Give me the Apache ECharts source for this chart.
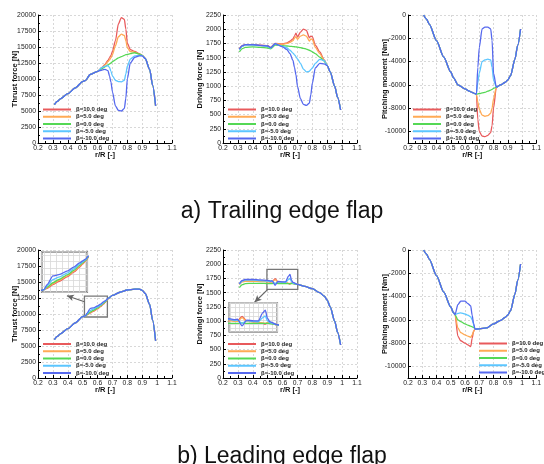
<!DOCTYPE html>
<html>
<head>
<meta charset="utf-8">
<script src="https://cdn.jsdelivr.net/npm/echarts@6/dist/echarts.min.js"></script>
<style>
  html, body { margin: 0; padding: 0; background: #fff; }
  #chart { width: 544px; height: 464px; }
</style>
</head>
<body>
<div id="chart"></div>
<script>
// flap angle cases
const betaNames = ['β=10.0 deg', 'β=5.0 deg', 'β=0.0 deg', 'β=-5.0 deg', 'β=-10.0 deg'];
const colors = ['#e85a5c', '#ffaa55', '#55d855', '#5cc6ff', '#5568ee'];
const pitchTicks = [-10000, -8000, -6000, -4000, -2000, 0];

// ---- a) trailing edge flap ----
const rTE = [0.31, 0.33, 0.35, 0.4, 0.45, 0.5, 0.52, 0.55, 0.6, 0.63, 0.65, 0.67, 0.68, 0.69, 0.7,
  0.72, 0.74, 0.76, 0.78, 0.79, 0.8, 0.82, 0.85, 0.88, 0.9, 0.92, 0.95, 0.97, 0.99];

const thrustTE = [
  [6000, 6500, 6900, 7700, 8600, 9600, 9800, 10700, 11200, 11800, 12300, 12900, 13300, 13700, 14300, 16000, 18600, 19600, 19300, 17800, 15600, 14600, 14300, 13950, 13700, 13200, 11500, 9000, 5800],
  [6000, 6500, 6900, 7700, 8600, 9600, 9800, 10700, 11200, 11700, 12200, 12700, 13000, 13300, 13800, 15200, 16600, 17000, 16800, 16000, 14900, 14300, 14200, 13900, 13700, 13200, 11500, 9000, 5800],
  [6000, 6500, 6900, 7700, 8600, 9600, 9800, 10700, 11200, 11600, 11900, 12200, 12350, 12500, 12700, 13000, 13300, 13500, 13700, 13800, 13850, 13950, 14100, 13900, 13700, 13200, 11500, 9000, 5800],
  [6000, 6500, 6900, 7700, 8600, 9600, 9800, 10700, 11200, 11800, 12000, 12100, 11800, 11200, 10500, 9800, 9600, 9550, 9800, 10800, 12000, 13100, 13600, 13700, 13650, 13200, 11500, 9000, 5800],
  [6000, 6500, 6900, 7700, 8600, 9600, 9800, 10700, 11200, 11400, 11500, 11300, 10500, 9500, 8000, 5800, 5100, 5000, 5400, 7000, 10000, 12500, 13400, 13600, 13600, 13200, 11500, 9000, 5800]
];

const driveTE = [
  [1660, 1710, 1730, 1730, 1720, 1710, 1680, 1750, 1740, 1760, 1790, 1830, 1880, 1930, 1860, 1950, 2000, 1980, 1850, 1880, 1870, 1720, 1600, 1460, 1360, 1250, 1000, 800, 580],
  [1650, 1700, 1720, 1720, 1710, 1700, 1675, 1745, 1735, 1750, 1770, 1800, 1840, 1870, 1820, 1880, 1900, 1880, 1790, 1830, 1820, 1680, 1570, 1450, 1360, 1250, 1000, 800, 580],
  [1600, 1660, 1680, 1690, 1680, 1670, 1655, 1720, 1710, 1705, 1700, 1695, 1692, 1690, 1685, 1675, 1665, 1650, 1630, 1620, 1600, 1570, 1510, 1440, 1360, 1250, 1000, 800, 580],
  [1640, 1700, 1720, 1720, 1710, 1700, 1670, 1740, 1700, 1670, 1630, 1580, 1550, 1520, 1480, 1400, 1300, 1250, 1260, 1290, 1320, 1400, 1470, 1450, 1360, 1250, 1000, 800, 580],
  [1650, 1710, 1730, 1730, 1715, 1705, 1675, 1745, 1690, 1640, 1570, 1450, 1330, 1200, 1000, 780, 680, 660, 700, 850, 1050, 1320, 1400, 1390, 1360, 1250, 1000, 800, 580]
];

const pitchTE = [
  [0, -350, -800, -2200, -3600, -4900, -5400, -6000, -6350, -6550, -6650, -6750, -6800, -9000, -10000, -10400, -10450, -10350, -10100, -9500, -8000, -6200, -6000, -5800, -5600, -5200, -3800, -2600, -1200],
  [0, -350, -800, -2200, -3600, -4900, -5400, -6000, -6350, -6550, -6650, -6750, -6800, -7500, -8100, -8600, -8700, -8650, -8450, -8000, -7200, -6200, -6000, -5800, -5600, -5200, -3800, -2600, -1200],
  [0, -350, -800, -2200, -3600, -4900, -5400, -6000, -6350, -6550, -6650, -6750, -6800, -6780, -6750, -6700, -6650, -6550, -6450, -6400, -6300, -6200, -6000, -5800, -5600, -5200, -3800, -2600, -1200],
  [0, -350, -800, -2200, -3600, -4900, -5400, -6000, -6350, -6550, -6650, -6750, -6800, -5800, -5000, -4000, -3850, -3800, -3850, -4500, -5600, -6200, -6000, -5800, -5600, -5200, -3800, -2600, -1200],
  [0, -350, -800, -2200, -3600, -4900, -5400, -6000, -6350, -6550, -6650, -6750, -6800, -4500, -2800, -1200, -1050, -1050, -1200, -2200, -5000, -6200, -6000, -5800, -5600, -5200, -3800, -2600, -1200]
];

// ---- b) leading edge flap ----
const rLE = [0.31, 0.33, 0.35, 0.4, 0.45, 0.5, 0.52, 0.53, 0.55, 0.57, 0.6, 0.62, 0.64, 0.65, 0.66, 0.67,
  0.7, 0.75, 0.8, 0.85, 0.88, 0.9, 0.92, 0.95, 0.97, 0.99];

const thrustLE = [
  [6000, 6500, 6900, 7700, 8600, 9600, 9750, 9850, 10150, 10400, 10800, 11150, 11550, 11800, 12050, 12350, 12900, 13400, 13750, 13900, 13900, 13700, 13200, 11500, 9000, 5800],
  [6000, 6500, 6900, 7700, 8600, 9600, 9750, 9900, 10220, 10480, 10880, 11220, 11620, 11850, 12080, 12380, 12900, 13400, 13750, 13900, 13900, 13700, 13200, 11500, 9000, 5800],
  [6000, 6500, 6900, 7700, 8600, 9600, 9750, 9950, 10300, 10560, 10960, 11300, 11700, 11900, 12100, 12400, 12900, 13400, 13750, 13900, 13900, 13700, 13200, 11500, 9000, 5800],
  [6000, 6500, 6900, 7700, 8600, 9600, 9750, 10050, 10550, 10750, 11100, 11420, 11800, 11980, 12150, 12420, 12900, 13400, 13750, 13900, 13900, 13700, 13200, 11500, 9000, 5800],
  [6000, 6500, 6900, 7700, 8600, 9600, 9750, 10150, 10850, 10950, 11250, 11550, 11900, 12050, 12200, 12450, 12900, 13400, 13750, 13900, 13900, 13700, 13200, 11500, 9000, 5800]
];

const driveLE = [
  [1650, 1700, 1710, 1710, 1705, 1700, 1690, 1690, 1745, 1690, 1680, 1675, 1660, 1650, 1670, 1665, 1645, 1610, 1570, 1500, 1440, 1370, 1250, 1000, 800, 580],
  [1640, 1690, 1700, 1700, 1695, 1690, 1685, 1685, 1730, 1685, 1680, 1675, 1665, 1660, 1670, 1665, 1645, 1610, 1570, 1500, 1440, 1370, 1250, 1000, 800, 580],
  [1590, 1640, 1660, 1665, 1665, 1660, 1660, 1660, 1665, 1660, 1660, 1660, 1660, 1660, 1660, 1658, 1645, 1610, 1570, 1500, 1440, 1370, 1250, 1000, 800, 580],
  [1650, 1705, 1720, 1720, 1712, 1705, 1695, 1700, 1660, 1690, 1685, 1680, 1730, 1750, 1690, 1670, 1645, 1610, 1570, 1500, 1440, 1370, 1250, 1000, 800, 580],
  [1660, 1715, 1735, 1735, 1725, 1715, 1705, 1710, 1630, 1700, 1690, 1690, 1790, 1820, 1720, 1680, 1645, 1610, 1570, 1500, 1440, 1370, 1250, 1000, 800, 580]
];

const pitchLE = [
  [0, -350, -800, -2200, -3600, -4900, -5400, -5550, -7400, -7800, -8000, -8150, -8300, -7600, -7000, -6800, -6780, -6700, -6350, -6050, -5800, -5600, -5200, -3800, -2600, -1200],
  [0, -350, -800, -2200, -3600, -4900, -5400, -5550, -6700, -7100, -7300, -7400, -7500, -7300, -7000, -6800, -6780, -6700, -6350, -6050, -5800, -5600, -5200, -3800, -2600, -1200],
  [0, -350, -800, -2200, -3600, -4900, -5400, -5550, -6000, -6150, -6350, -6450, -6550, -6600, -6650, -6750, -6780, -6700, -6350, -6050, -5800, -5600, -5200, -3800, -2600, -1200],
  [0, -350, -800, -2200, -3600, -4900, -5400, -5550, -5450, -5400, -5500, -5600, -5750, -6000, -6400, -6800, -6780, -6700, -6350, -6050, -5800, -5600, -5200, -3800, -2600, -1200],
  [0, -350, -800, -2200, -3600, -4900, -5400, -5550, -4700, -4400, -4400, -4600, -4800, -5600, -6300, -6800, -6780, -6700, -6350, -6050, -5800, -5600, -5200, -3800, -2600, -1200]
];

// zoom boxes (data coords) and arrows pointing to the insets
const thrustZoomX = [0.512, 0.666];
const thrustZoomY = [9530, 12800];
const thrustArrow = [[0.512, 11920], [0.394, 12860]];
const driveZoomX = [0.495, 0.702];
const driveZoomY = [1559, 1911];
const driveArrow = [[0.501, 1559], [0.412, 1331]];

const FONT = 'Liberation Sans, Arial, sans-serif';
const gridLeft = [38, 223, 408];
const gridTop = [15, 250];
const gridW = 134;
const gridH = 128;

const myChart = echarts.init(document.getElementById('chart'));

function lines(r, rows, axis, z) {
  return rows.map((row, k) => ({
    name: betaNames[k],
    type: 'line',
    xAxisIndex: axis,
    yAxisIndex: axis,
    data: r.map((x, i) => [x, row[i]]),
    symbol: 'none',
    showSymbol: false,
    smooth: 0.25,
    smoothMonotone: 'x',
    z: z || 2,
    animation: false,
    lineStyle: { width: 1.3, color: colors[k] },
    itemStyle: { color: colors[k] },
  }));
}

function mainX(idx) {
  return {
    type: 'value',
    gridIndex: idx,
    min: 0.2,
    max: 1.1,
    interval: 0.1,
    name: 'r/R [-]',
    nameLocation: 'middle',
    nameGap: 8,
    nameMoveOverlap: false,
    nameTextStyle: { fontSize: 7.5, fontWeight: 'bold', color: '#111' },
    axisLine: { onZero: false, lineStyle: { color: '#000', width: 1 } },
    axisTick: { inside: true, length: 3, lineStyle: { color: '#000' } },
    minorTick: { show: true, splitNumber: 2, length: 2, lineStyle: { color: '#000' } },
    axisLabel: { fontSize: 6.8, color: '#222', margin: 2 },
    splitLine: { show: true, lineStyle: { color: '#cfcfcf', width: 0.8, type: [2, 2] } },
  };
}

function mainY(idx, name, min, max, interval) {
  const ax = {
    type: 'value',
    gridIndex: idx,
    min: min,
    max: max,
    name: name,
    nameLocation: 'middle',
    nameGap: 19,
    nameMoveOverlap: false,
    nameTextStyle: { fontSize: 7.5, fontWeight: 'bold', color: '#111' },
    axisLine: { onZero: false, lineStyle: { color: '#000', width: 1 } },
    axisTick: { inside: true, length: 3, lineStyle: { color: '#000' } },
    minorTick: { show: true, splitNumber: 2, length: 2, lineStyle: { color: '#000' } },
    axisLabel: { fontSize: 6.8, color: '#222', margin: 2, formatter: (v) => String(v) },
    splitLine: { show: true, lineStyle: { color: '#cfcfcf', width: 0.8, type: [2, 2] } },
  };
  if (interval) {
    ax.interval = interval;
  } else {
    ax.axisTick.customValues = pitchTicks;
    ax.axisLabel.customValues = pitchTicks;
    ax.minorTick = { show: false };
  }
  return ax;
}

function insetAxis(idx, range, n) {
  return {
    type: 'value',
    gridIndex: idx,
    min: range[0],
    max: range[1],
    splitNumber: n,
    z: 10,
    axisLine: { show: false },
    axisTick: { show: false },
    axisLabel: { show: false },
    splitLine: { show: true, lineStyle: { color: '#d8d8d8', width: 0.8 } },
  };
}

function legendAt(left, top) {
  return {
    orient: 'vertical',
    left: left,
    top: top,
    padding: 0,
    itemWidth: 28,
    itemHeight: 7,
    itemGap: 0.25,
    selectedMode: false,
    itemStyle: { opacity: 0 },
    lineStyle: { width: 2 },
    textStyle: { fontSize: 6, fontWeight: 'bold', color: '#222', lineHeight: 7, fontFamily: FONT },
    data: betaNames,
  };
}

function zoomMarks(zx, zy, arrow) {
  return {
    markArea: {
      silent: true,
      itemStyle: { color: 'rgba(0,0,0,0)', borderColor: '#777', borderWidth: 1.3 },
      data: [[{ coord: [zx[0], zy[0]] }, { coord: [zx[1], zy[1]] }]],
    },
    markLine: {
      silent: true,
      symbol: ['none', 'arrow'],
      symbolSize: [5, 7],
      label: { show: false },
      lineStyle: { color: '#666', type: 'solid', width: 1.2 },
      data: [[{ coord: arrow[0] }, { coord: arrow[1] }]],
    },
  };
}

const grids = [];
for (let row = 0; row < 2; row++) {
  for (let col = 0; col < 3; col++) {
    grids.push({ left: gridLeft[col], top: gridTop[row], width: gridW, height: gridH });
  }
}
// insets
grids.push({ left: 41.7, top: 251.7, width: 45.6, height: 40.6, show: true, z: 10,
  backgroundColor: '#fff', borderColor: '#555', borderWidth: 1.5 });
grids.push({ left: 229.3, top: 302.7, width: 48, height: 29, show: true, z: 10,
  backgroundColor: '#fff', borderColor: '#555', borderWidth: 1.5 });

const xAxes = [0, 1, 2, 3, 4, 5].map(mainX);
xAxes.push(insetAxis(6, thrustZoomX, 8));
xAxes.push(insetAxis(7, driveZoomX, 10));

const yAxes = [
  mainY(0, 'Thrust force [N]', 0, 20000, 2500),
  mainY(1, 'Driving force [N]', 0, 2250, 250),
  mainY(2, 'Pitching moment [Nm]', -11000, 0, null),
  mainY(3, 'Thrust force [N]', 0, 20000, 2500),
  mainY(4, 'Drivingl force [N]', 0, 2250, 250),
  mainY(5, 'Pitching moment [Nm]', -11000, 0, null),
  insetAxis(6, thrustZoomY, 8),
  insetAxis(7, driveZoomY, 6),
];

const series = [].concat(
  lines(rTE, thrustTE, 0),
  lines(rTE, driveTE, 1),
  lines(rTE, pitchTE, 2),
  lines(rLE, thrustLE, 3),
  lines(rLE, driveLE, 4),
  lines(rLE, pitchLE, 5),
  lines(rLE, thrustLE, 6, 11),
  lines(rLE, driveLE, 7, 11)
);
Object.assign(series[19], zoomMarks(thrustZoomX, thrustZoomY, thrustArrow));
Object.assign(series[24], zoomMarks(driveZoomX, driveZoomY, driveArrow));

const option = {
  animation: false,
  textStyle: { fontFamily: FONT },
  title: [
    { text: 'a) Trailing edge flap', left: 277, top: 195, textAlign: 'center',
      textStyle: { fontSize: 23, fontWeight: 'normal', color: '#111', fontFamily: FONT } },
    { text: 'b) Leading edge flap', left: 277, top: 440, textAlign: 'center',
      textStyle: { fontSize: 23, fontWeight: 'normal', color: '#111', fontFamily: FONT } },
  ],
  legend: [
    legendAt(42, 106),
    legendAt(227, 106),
    legendAt(412, 106),
    legendAt(42, 340.5),
    legendAt(227, 340.5),
    legendAt(478, 340),
  ],
  grid: grids,
  xAxis: xAxes,
  yAxis: yAxes,
  series: series,
};
myChart.setOption(option);
</script>
</body>
</html>
